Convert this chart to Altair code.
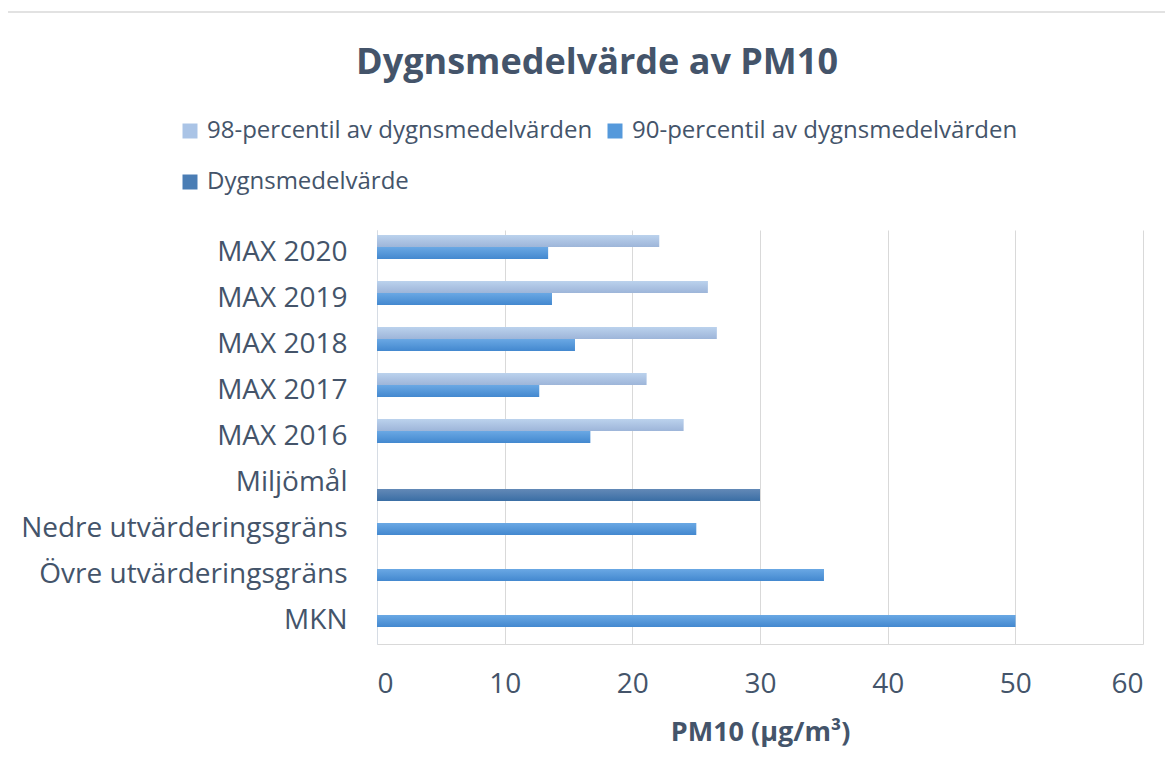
import altair as alt
import pandas as pd

# ---- data ----
categories = [
    "MAX 2020", "MAX 2019", "MAX 2018", "MAX 2017", "MAX 2016",
    "Miljömål", "Nedre utvärderingsgräns", "Övre utvärderingsgräns", "MKN",
]
series_names = [
    "98-percentil av dygnsmedelvärden",
    "90-percentil av dygnsmedelvärden",
    "Dygnsmedelvärde",
]
p98 = [22.1, 25.9, 26.6, 21.1, 24.0, None, None, None, None]
p90 = [13.4, 13.7, 15.5, 12.7, 16.7, None, 25.0, 35.0, 50.0]
dygn = [None, None, None, None, None, 30.0, None, None, None]
x_ticks = [0, 10, 20, 30, 40, 50, 60]

solid_colors = ["#aac4e6", "#5599db", "#4a7db4"]
gradient_stops = [
    ["#bbd2ed", "#9db5d9"],
    ["#6aa8e4", "#4388cf"],
    ["#6389b7", "#3a6ea5"],
]

# legend is laid out column by column: 98 / Dygn in first column, 90 in second
legend_order = [series_names[0], series_names[2], series_names[1]]
legend_colors = [solid_colors[0], solid_colors[2], solid_colors[1]]

rows = []
for s, vals in zip(series_names, [p98, p90, dygn]):
    for c, v in zip(categories, vals):
        if v is not None:
            rows.append({"Kategori": c, "Serie": s, "Värde": v})
df = pd.DataFrame(rows)

TEXT = "#44546a"
GRID = "#d9d9d9"
FONT = "Open Sans"

y_enc = alt.Y(
    "Kategori:N",
    sort=categories,
    scale=alt.Scale(paddingInner=0.217, paddingOuter=0.108),
    axis=alt.Axis(
        title=None, ticks=False, labelPadding=30, labelFontSize=28, labelLimit=500,
        labelFont=FONT, labelColor=TEXT, domainColor="#d6dce4", grid=False,
    ),
)
x_enc = alt.X(
    "Värde:Q",
    scale=alt.Scale(domain=[0, 60], nice=False),
    axis=alt.Axis(
        values=x_ticks, title="PM10 (µg/m³)", ticks=False, labelPadding=26,
        labelFontSize=28, labelFont=FONT, labelColor=TEXT, grid=True,
        gridColor=GRID, domainColor=GRID, titleFont=FONT, titleFontSize=27,
        titleFontWeight="bold", titleColor=TEXT, titlePadding=21,
    ),
)
yoff_enc = alt.YOffset("Serie:N", sort=series_names,
                       scale=alt.Scale(domain=series_names, paddingInner=0, paddingOuter=0))

base_bars = alt.Chart(df).mark_bar().encode(
    y=y_enc,
    x=x_enc,
    yOffset=yoff_enc,
    color=alt.Color(
        "Serie:N",
        scale=alt.Scale(domain=legend_order, range=legend_colors),
        legend=alt.Legend(
            title=None, orient="none", legendX=-199, legendY=-111, columns=2,
            symbolType="square", symbolSize=225, symbolStrokeWidth=0,
            labelFont=FONT, labelFontSize=24, labelColor=TEXT, labelOffset=5,
            columnPadding=10, rowPadding=27, labelLimit=600,
        ),
    ),
)

layers = [base_bars]
for s, (c0, c1) in zip(series_names, gradient_stops):
    grad = alt.Gradient(
        gradient="linear",
        stops=[alt.GradientStop(color=c0, offset=0), alt.GradientStop(color=c1, offset=1)],
        x1=0, x2=0, y1=0, y2=1,
    )
    layers.append(
        alt.Chart(df)
        .transform_filter(alt.datum.Serie == s)
        .mark_bar(fill=grad)
        .encode(y=y_enc, x=x_enc, yOffset=yoff_enc)
    )

border = alt.Chart(pd.DataFrame({"k": [0]})).mark_rect(
    fillOpacity=0, stroke="#d9d9d9", strokeWidth=1.5
).encode(
    x=alt.value(-374), x2=alt.value(830), y=alt.value(-218), y2=alt.value(580)
)

chart = (
    alt.layer(border, *layers)
    .properties(
        width=766,
        height=414,
        view=alt.ViewBackground(stroke="transparent", strokeWidth=0),
        autosize=alt.AutoSizeParams(type="none"),
        padding={"left": 369, "top": 222, "right": 22, "bottom": 120},
        title=alt.TitleParams(
            "Dygnsmedelvärde av PM10", font=FONT, fontSize=36, fontWeight="bold",
            color=TEXT, anchor="middle", dx=-163, offset=-71,
        ),
    )
    .configure_view(stroke="transparent", strokeWidth=0)
    .configure(background="white")
)

chart.save("out.html", embed_options={"renderer": "svg", "actions": False})
